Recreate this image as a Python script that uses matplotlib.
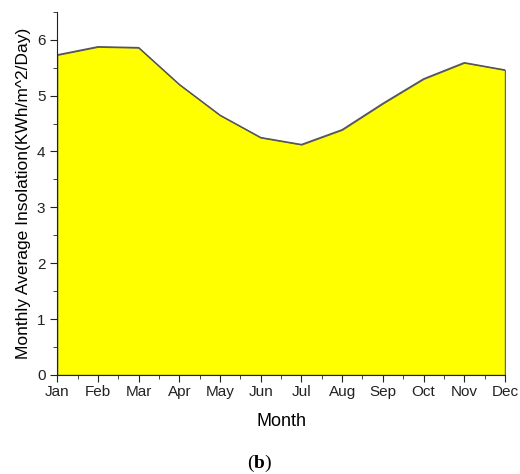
import matplotlib
matplotlib.use("Agg")
import matplotlib.pyplot as plt
from matplotlib.ticker import MultipleLocator

months = ["Jan", "Feb", "Mar", "Apr", "May", "Jun", "Jul", "Aug", "Sep", "Oct", "Nov", "Dec"]
insolation = [5.73, 5.875, 5.86, 5.2, 4.65, 4.25, 4.125, 4.39, 4.86, 5.30, 5.59, 5.46]

plt.rcParams['font.family'] = ['Liberation Sans', 'DejaVu Sans']
plt.rcParams['mathtext.fontset'] = 'custom'
plt.rcParams['mathtext.rm'] = 'Liberation Serif'
plt.rcParams['mathtext.bf'] = 'Liberation Serif:bold'

fig = plt.figure(figsize=(5.2, 4.74), dpi=100)
ax = fig.add_axes([0.11, 0.209, 0.861, 0.766])
x = list(range(len(months)))
ax.fill_between(x, insolation, 0, facecolor="#ffff00", edgecolor="#666666", linewidth=0.9)
ax.plot(x, insolation, color="#555555", linewidth=1.0)

ax.set_xlim(0, 11)
ax.set_ylim(0, 6.5)
ax.set_xticks(x)
ax.set_xticklabels(months)
ax.xaxis.set_minor_locator(MultipleLocator(0.5))
ax.yaxis.set_major_locator(MultipleLocator(1))
ax.yaxis.set_minor_locator(MultipleLocator(0.5))
ax.spines['top'].set_visible(False)
ax.spines['right'].set_visible(False)
for s in ('left', 'bottom'):
    ax.spines[s].set_color('#222222')
ax.tick_params(axis='both', which='major', direction='out', length=5, labelsize=11, colors='#222222')
ax.tick_params(axis='x', which='major', pad=2)
ax.tick_params(axis='both', which='minor', direction='out', length=3, colors='#222222')
ax.set_xlabel("Month", fontsize=13, labelpad=10)
ax.set_ylabel("Monthly Average Insolation(KWh/m^2/Day)", fontsize=12.5, labelpad=4)

fig.text(0.5, 0.023, r"$\mathrm{(}\mathbf{b}\mathrm{)}$", ha="center", va="center", fontsize=14)
fig.savefig("out.png", dpi=100)
